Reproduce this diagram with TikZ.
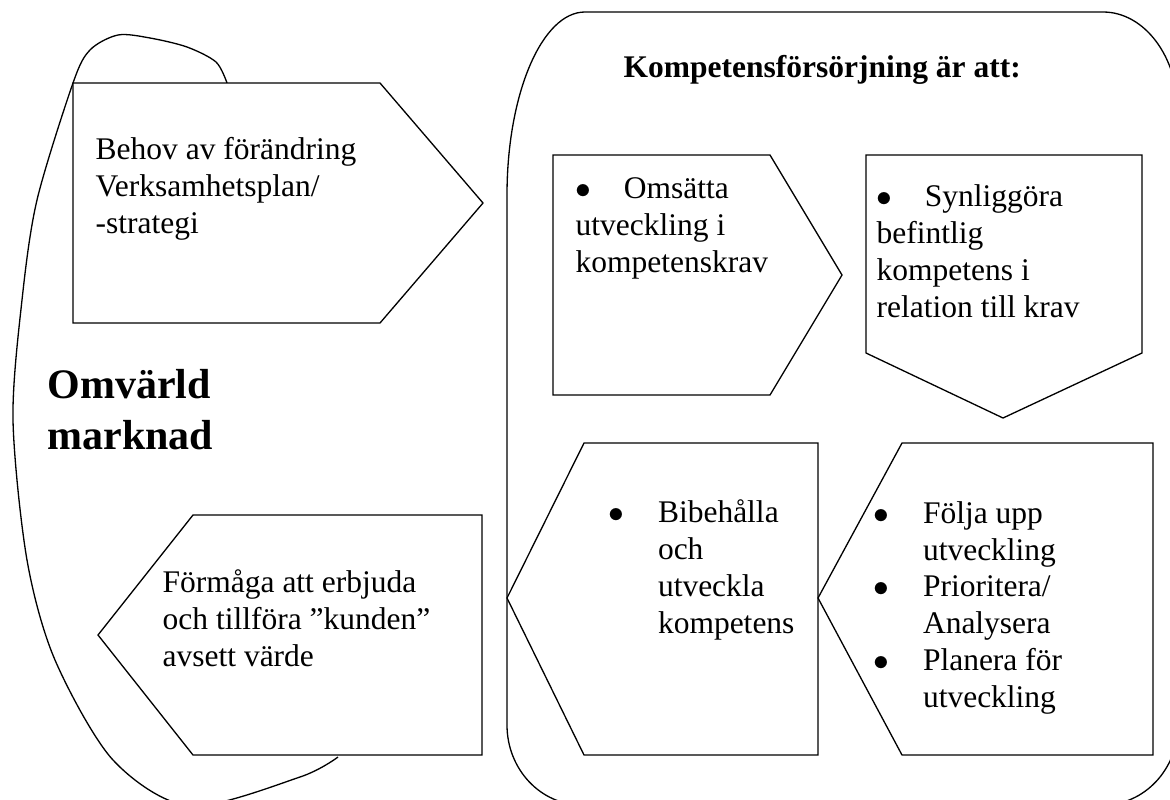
\documentclass[tikz,border=0pt]{standalone}
\usepackage{fontspec}
\setmainfont{Liberation Serif}

\newcommand{\itm}{\makebox[18.8pt][l]{$\bullet$}}
\newcommand{\ind}{\makebox[18.8pt]{}}

\begin{document}
\begin{tikzpicture}[x=0.381pt, y=-0.381pt, line width=0.5pt,
	arrowbox/.style={draw, fill=white},
	txt/.style={anchor=base west, inner sep=0pt, align=left,
				font=\fontsize{12pt}{14pt}\selectfont},
	big/.style={txt, font=\fontsize{16pt}{19.4pt}\selectfont\bfseries},
]
\useasboundingbox (0,0) rectangle (1170,799);
\clip (0,0) rectangle (1170,799);
% omvarld (base = last line)
\draw plot[smooth] coordinates {(227,83) (216,62) (187,47) (150,38) (118,35)
	(90,50) (73,83) (37,200) (22,300) (13,420) (27,560) (55,660) (113,760)
	(190,806) (300,777) (338,757)};
\draw [arrowbox] (73,83) -- (380,83) -- (483,203) -- (380,323) -- (73,323) -- cycle;
\draw [arrowbox] (193,515) -- (482,515) -- (482,755) -- (193,755) -- (98,635) -- cycle;
%
\node [big] (omv) at (47,449) {Omvärld\\marknad};
\node [txt] (behov) at (95,233) {Behov av förändring\\Verksamhetsplan/\\-strategi};
\node [txt] (formaga) at (162,666) {Förmåga att erbjuda\\och tillföra ”kunden”\\avsett värde};
% kompetensforsorjning
\draw [arrowbox] (507,195) arc[start angle=180, end angle=270, x radius=78, y radius=183]
	-- (1103,12) arc[start angle=270, end angle=360, x radius=75, y radius=100]
	-- (1178,725) arc[start angle=0, end angle=90, x radius=75, y radius=80]
	-- (582,805) arc[start angle=90, end angle=180, x radius=75, y radius=80] -- cycle;
\node [txt, font=\fontsize{12pt}{14pt}\selectfont\bfseries] (rubrik) at (623,77)
	{Kompetensförsörjning är att:};
%
\draw [arrowbox] (553,155) -- (770,155) -- (842,275) -- (770,395) -- (553,395) -- cycle;
\draw [arrowbox] (866,155) -- (1142,155) -- (1142,353) -- (1003,418) -- (866,353) -- cycle;
\draw [arrowbox] (584,443) -- (818,443) -- (818,755) -- (584,755) -- (507,598) -- cycle;
\draw [arrowbox] (902,443) -- (1153,443) -- (1153,755) -- (902,755) -- (818,598) -- cycle;
%
\node [txt] (omsatta) at (575,272)
	{$\bullet$\hspace{12.4pt}Omsätta\\utveckling i\\kompetenskrav};
\node [txt] (synlig) at (876,317)
	{$\bullet$\hspace{12.4pt}Synliggöra\\befintlig\\kompetens i\\relation till krav};
\node [txt] (bibehall) at (608,633)
	{\itm Bibehålla\\\ind och\\\ind utveckla\\\ind kompetens};
\node [txt] (folja) at (873,707)
	{\itm Följa upp\\\ind utveckling\\\itm Prioritera/\\\ind Analysera\\\itm Planera för\\\ind utveckling};
\end{tikzpicture}
\end{document}
